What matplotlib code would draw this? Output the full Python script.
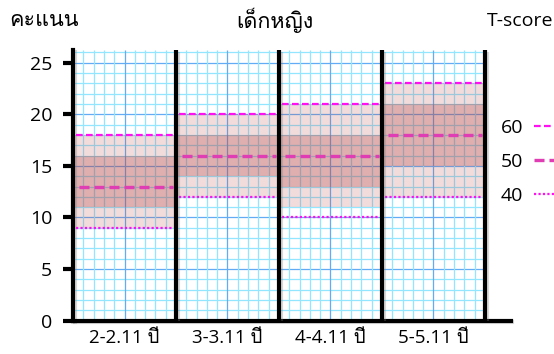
import numpy as np
import matplotlib
matplotlib.use('Agg')
import matplotlib.pyplot as plt
import matplotlib.patheffects as pe
from matplotlib import font_manager
from matplotlib.ft2font import FT2Font
from matplotlib.lines import Line2D

# data (score per age group)
ages = ['2-2.11 ปี', '3-3.11 ปี', '4-4.11 ปี', '5-5.11 ปี']
t60 = [18, 20, 21, 23]
t50 = [13, 16, 16, 18]
t40 = [9, 12, 10, 12]
light_low = [9, 12, 11, 12]
light_high = [18, 20, 21, 23]
dark_low = [11, 14, 13, 15]
dark_high = [16, 18, 18, 21]
yticks = [0, 5, 10, 15, 20, 25]

# find an installed font with Thai glyphs
thai_font = None
for f in font_manager.fontManager.ttflist:
    try:
        if 0x0E04 in FT2Font(f.fname).get_charmap():
            thai_font = f.name
            break
    except Exception:
        pass
fams = ['Open Sans']
if thai_font:
    fams.append(thai_font)
fams.append('DejaVu Sans')
plt.rcParams['font.family'] = fams

fig = plt.figure(figsize=(5.54, 3.54), dpi=100)
ax = fig.add_axes([0.1318, 0.094, 0.790, 0.764])
n = len(ages)
ymax = 26.2

# graph-paper grid
minor_c = '#93e6ff'
major_c = '#62acf5'
for y in range(1, 27):
    ax.hlines(y, 0, n, color=major_c if y % 5 == 0 else minor_c, lw=0.9, zorder=0.5)
for k in range(0, n * 10 + 1):
    ax.vlines(k / 10, 0, ymax, color=major_c if k % 5 == 0 else minor_c, lw=0.9, zorder=0.5)

x = np.arange(n)
ax.bar(x + 0.5, np.subtract(light_high, light_low), bottom=light_low, width=1.0,
       color='#c0504d', alpha=0.2, lw=0, zorder=1)
ax.bar(x + 0.5, np.subtract(dark_high, dark_low), bottom=dark_low, width=1.0,
       color='#b04848', alpha=0.3, lw=0, zorder=1.1)

ax.hlines(t60, x + 0.03, x + 0.97, color='#ff10f0', lw=1.6, linestyles=(0, (3, 1.5)), zorder=3)
ax.hlines(t50, x + 0.06, x + 0.97, color='#e03cb4', lw=2.4, linestyles=(0, (3, 1.5)), zorder=3)
ax.hlines(t40, x + 0.03, x + 0.97, color='#ff10f0', lw=1.6, linestyles=(0, (1, 1)), zorder=3)

shadow = [pe.SimpleLineShadow(offset=(1.2, -1.2), shadow_color='gray', alpha=0.3), pe.Normal()]
ax.vlines(np.arange(1, n + 1), 0, ymax, color='black', lw=3, zorder=4, path_effects=shadow)

ax.set_xlim(0, 4.25)
ax.set_ylim(0, ymax)
ax.set_yticks(yticks)
ax.set_xticks(x + 0.5)
ax.set_xticklabels(ages)
ax.tick_params(axis='y', length=7, width=3, labelsize=14, pad=8)
ax.tick_params(axis='x', length=0, labelsize=13.5, pad=6)
for s in ['top', 'right']:
    ax.spines[s].set_visible(False)
for s in ['left', 'bottom']:
    ax.spines[s].set_linewidth(3)
    ax.spines[s].set_path_effects(shadow)

fig.text(0.016, 0.942, 'คะแนน', fontsize=15.5, va='center', ha='left')
fig.text(0.496, 0.942, 'เด็กหญิง', fontsize=15.5, va='center', ha='center')
fig.text(0.999, 0.942, 'T-score', fontsize=14, va='center', ha='right')

handles = [Line2D([], [], color='#ff10f0', lw=1.6, ls=(0, (3, 1.5))),
           Line2D([], [], color='#e03cb4', lw=2.4, ls=(0, (3, 1.5))),
           Line2D([], [], color='#ff10f0', lw=1.6, ls=(0, (1, 1)))]
fig.legend(handles, ['60', '50', '40'], loc='center left', bbox_to_anchor=(0.872, 0.542),
           markerfirst=False, frameon=False, fontsize=14, handlelength=3,
           labelspacing=0.83, handletextpad=0.55)

fig.savefig('out.png', dpi=100)
